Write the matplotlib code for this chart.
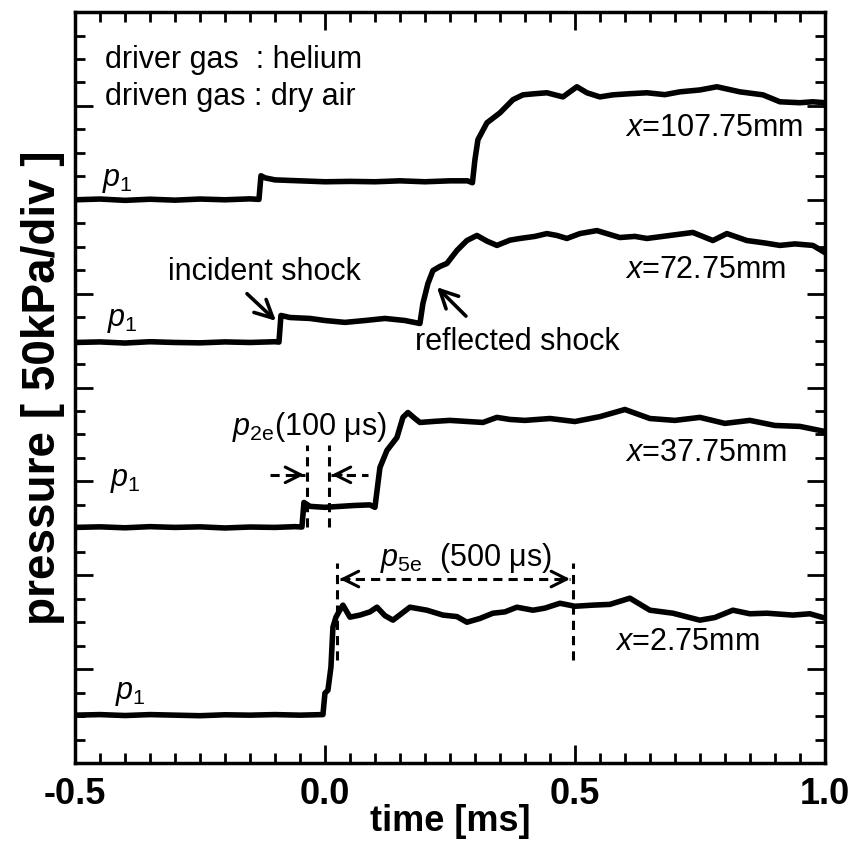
import matplotlib
matplotlib.use("Agg")
import matplotlib.pyplot as plt
from matplotlib.ticker import MultipleLocator, NullFormatter

plt.rcParams["font.family"] = ["Liberation Sans", "DejaVu Sans"]
plt.rcParams["mathtext.fontset"] = "custom"
plt.rcParams["mathtext.it"] = "Liberation Sans:italic"
plt.rcParams["mathtext.rm"] = "Liberation Sans"

# trace data: time [ms], pressure rise over p1 [kPa]
t1 = [-0.5, -0.45, -0.4, -0.35, -0.3, -0.25, -0.2, -0.15, -0.132, -0.128, -0.12, -0.1, -0.05,
      0.0, 0.05, 0.1, 0.15, 0.2, 0.25, 0.285, 0.295, 0.30, 0.306, 0.324, 0.35, 0.376, 0.396,
      0.42, 0.444, 0.476, 0.504, 0.524, 0.55, 0.576, 0.61, 0.644, 0.68, 0.71, 0.75, 0.784,
      0.83, 0.876, 0.91, 0.95, 0.976, 1.0]
dp1 = [0.0, 0.4, -0.3, 0.3, -0.2, 0.4, 0.0, 0.5, 0.2, 12.8, 11.7, 10.6, 10.1,
       9.6, 9.8, 9.6, 10.1, 9.6, 10.1, 10.1, 9.1, 21.3, 32.0, 41.0, 46.3, 53.3, 55.9,
       56.5, 57.0, 54.8, 60.2, 57.0, 54.8, 55.9, 56.5, 57.0, 56.0, 57.5, 58.5, 60.2,
       57.5, 55.9, 52.2, 51.7, 52.2, 51.7]

t2 = [-0.5, -0.45, -0.4, -0.35, -0.3, -0.25, -0.2, -0.15, -0.1, -0.092, -0.088, -0.07, -0.03,
      0.0, 0.04, 0.08, 0.12, 0.16, 0.19, 0.196, 0.206, 0.216, 0.23, 0.244, 0.264, 0.284,
      0.304, 0.324, 0.344, 0.37, 0.39, 0.42, 0.444, 0.464, 0.484, 0.51, 0.544, 0.57, 0.59,
      0.62, 0.644, 0.69, 0.736, 0.776, 0.804, 0.844, 0.88, 0.91, 0.94, 0.976, 1.0]
dp2 = [0.0, 0.3, -0.3, 0.4, 0.0, -0.2, 0.3, 0.0, 0.4, 0.2, 14.4, 13.3, 12.8,
       11.7, 10.7, 11.7, 12.8, 11.7, 10.1, 20.8, 31.4, 38.3, 40.5, 42.1, 49.0, 54.3,
       57.0, 54.0, 51.7, 54.5, 55.4, 56.5, 58.0, 57.0, 55.4, 58.0, 59.6, 57.5, 55.9,
       56.5, 55.4, 57.0, 58.6, 54.3, 58.0, 54.3, 53.0, 51.7, 52.5, 51.7, 47.9]

t3 = [-0.5, -0.45, -0.4, -0.35, -0.3, -0.25, -0.2, -0.15, -0.1, -0.06, -0.046, -0.042, -0.03,
      0.0, 0.03, 0.06, 0.09, 0.1, 0.11, 0.124, 0.144, 0.156, 0.166, 0.18, 0.19, 0.22, 0.25,
      0.28, 0.316, 0.344, 0.37, 0.4, 0.45, 0.5, 0.55, 0.6, 0.65, 0.7, 0.75, 0.8, 0.85, 0.9,
      0.95, 1.0]
dp3 = [0.0, 0.3, -0.2, 0.4, 0.0, 0.3, -0.3, 0.2, 0.0, 0.4, 0.2, 13.3, 11.2,
       10.7, 11.2, 11.7, 12.0, 10.7, 31.9, 41.0, 47.9, 58.6, 61.2, 58.0, 55.9, 56.5, 57.0,
       56.5, 55.9, 58.6, 57.5, 57.0, 58.0, 56.4, 59.0, 62.8, 58.0, 57.0, 58.6, 55.4, 57.0, 54.3,
       53.8, 51.1]

t4 = [-0.5, -0.45, -0.4, -0.35, -0.3, -0.25, -0.2, -0.15, -0.1, -0.05, -0.004, 0.0, 0.006,
      0.012, 0.016, 0.022, 0.03, 0.036, 0.05, 0.07, 0.09, 0.104, 0.12, 0.136, 0.17, 0.204,
      0.236, 0.264, 0.284, 0.31, 0.336, 0.36, 0.384, 0.416, 0.44, 0.47, 0.5, 0.536, 0.57,
      0.61, 0.65, 0.696, 0.75, 0.78, 0.816, 0.85, 0.884, 0.936, 0.97, 1.0]
dp4 = [0.0, 0.3, -0.2, 0.3, 0.0, -0.3, 0.2, 0.0, 0.3, 0.0, 0.3, 11.7, 13.3,
       25.6, 46.9, 52.2, 56.0, 58.6, 52.2, 53.3, 55.0, 57.5, 53.0, 50.6, 57.5, 55.9,
       53.3, 52.5, 49.5, 51.5, 54.3, 55.0, 57.5, 55.9, 57.0, 59.6, 58.0, 58.6, 59.0,
       62.3, 55.9, 54.3, 50.6, 52.0, 55.9, 54.0, 54.3, 53.3, 54.0, 51.7]

times = [t1, t2, t3, t4]
rises = [dp1, dp2, dp3, dp4]
offsets = [6.0, 4.48, 2.51, 0.51]          # baseline of each trace [div]
positions = ["107.75", "72.75", "37.75", "2.75"]
label_xy = [(0.60, 6.77), (0.60, 5.25), (0.60, 3.30), (0.58, 1.29)]
p1_xy = [(-0.446, 6.21), (-0.436, 4.72), (-0.43, 3.01), (-0.42, 0.745)]
kpa_per_div = 50.0

fig = plt.figure(figsize=(8.57, 8.48), dpi=100)
ax = fig.add_axes([0.0875, 0.1002, 0.875, 0.8856])

for t, dp, off in zip(times, rises, offsets):
    ax.plot(t, [off + v / kpa_per_div for v in dp], color="black", lw=4.0,
            solid_joinstyle="round")

fs = 22
for pos, (tx, ty) in zip(positions, label_xy):
    ax.text(tx, ty, "$x$=" + pos + "mm", fontsize=fs, va="center", ha="left")
for tx, ty in p1_xy:
    ax.text(tx, ty, "$p_1$", fontsize=fs, va="center", ha="left")

ax.text(-0.44, 7.49, "driver gas  : helium", fontsize=fs, va="center")
ax.text(-0.44, 7.09, "driven gas : dry air", fontsize=fs, va="center")

arrow = dict(arrowstyle="->", lw=2.6, color="black", mutation_scale=32)
small_arrow = dict(arrowstyle="->", lw=2.2, color="black", mutation_scale=28)

# shock annotations
ax.text(-0.314, 5.23, "incident shock", fontsize=fs, va="center", ha="left")
ax.annotate("", xy=(-0.094, 4.69), xytext=(-0.16, 5.02), arrowprops=arrow)
ax.text(0.18, 4.48, "reflected shock", fontsize=fs, va="center", ha="left")
ax.annotate("", xy=(0.22, 5.09), xytext=(0.286, 4.74), arrowprops=arrow)

# p2e window
dash = dict(color="black", lw=2.2, ls=(0, (3, 2)))
for tx in (-0.036, 0.008):
    ax.plot([tx, tx], [2.51, 3.39], **dash)
ax.plot([-0.11, -0.04], [3.07, 3.07], **dash)
ax.plot([0.012, 0.086], [3.07, 3.07], **dash)
ax.annotate("", xy=(-0.036, 3.07), xytext=(-0.066, 3.07), arrowprops=small_arrow)
ax.annotate("", xy=(0.008, 3.07), xytext=(0.038, 3.07), arrowprops=small_arrow)
ax.text(-0.186, 3.58, r"$p_{2\mathrm{e}}$(100 μs)", fontsize=fs, va="center")

# p5e window
for tx in (0.024, 0.496):
    ax.plot([tx, tx], [1.10, 2.13], **dash)
ax.plot([0.03, 0.49], [1.96, 1.96], **dash)
ax.annotate("", xy=(0.024, 1.96), xytext=(0.054, 1.96), arrowprops=small_arrow)
ax.annotate("", xy=(0.496, 1.96), xytext=(0.466, 1.96), arrowprops=small_arrow)
ax.text(0.11, 2.18, r"$p_{5\mathrm{e}}$  (500 μs)", fontsize=fs, va="center")

ax.set_xlim(-0.5, 1.0)
ax.set_ylim(0, 8)
ax.xaxis.set_major_locator(MultipleLocator(0.5))
ax.xaxis.set_minor_locator(MultipleLocator(0.05))
ax.yaxis.set_major_locator(MultipleLocator(1))
ax.yaxis.set_minor_locator(MultipleLocator(0.25))
ax.yaxis.set_major_formatter(NullFormatter())
ax.xaxis.set_major_formatter(plt.FuncFormatter(lambda v, p: f"{v:.1f}"))
ax.tick_params(which="both", direction="in", top=True, right=True, width=2)
ax.tick_params(which="major", length=13)
ax.tick_params(which="minor", length=7)
ax.tick_params(axis="x", labelsize=26, pad=10)
for lab in ax.get_xticklabels():
    lab.set_fontweight("bold")
for sp in ax.spines.values():
    sp.set_linewidth(2.5)

ax.set_xlabel("time [ms]", fontsize=26, fontweight="bold", labelpad=-6)
ax.set_ylabel("pressure [ 50kPa/div ]", fontsize=33, fontweight="bold", labelpad=4)

fig.savefig("out.png", dpi=100)
